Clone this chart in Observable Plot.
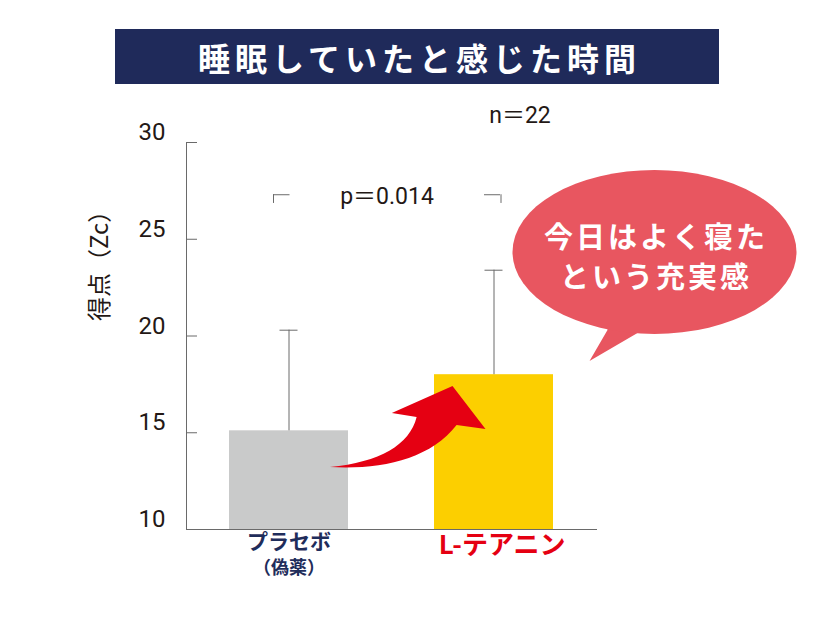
<!DOCTYPE html>
<html>
<head>
<meta charset="utf-8">
<script src="https://cdn.jsdelivr.net/npm/d3@7"></script>
<script src="https://cdn.jsdelivr.net/npm/@observablehq/plot@0.6"></script>
<style>
  html, body { margin: 0; padding: 0; background: #fff; }
  #wrap { width: 834px; height: 622px; position: relative; overflow: hidden; }
  #title {
    position: absolute; left: 115px; top: 29px; width: 604px; height: 55px;
    background: #1f2a5a; color: #fff;
    font-family: "Noto Sans CJK JP", sans-serif; font-weight: 700;
    font-size: 32px; letter-spacing: 5px; padding-left: 5px; box-sizing: border-box;
    display: flex; align-items: center; justify-content: center;
  }
  #chart { position: absolute; left: 0; top: 84px; }
  svg { overflow: visible; }
</style>
</head>
<body>
<div id="wrap">
  <div id="title"></div>
  <div id="chart"></div>
</div>
<script>
// ---- data ----
const titleText = "睡眠していたと感じた時間";
const categories = ["プラセボ", "L-テアニン"];
const subLabels = ["（偽薬）", ""];
const means = [15.1, 18.0];
const sds = [5.2, 5.4];
const yTicks = [10, 15, 20, 25, 30];
const yDomain = [10, 30];
const yLabel = "得点（Zc）";
const pText = "p＝0.014";
const nText = "n＝22";
const bracketTop = 27.3;
const bracketDrop = 26.85;
const bubbleLines = ["今日はよく寝た", "という充実感"];
const bubbleLineValues = [25.05, 22.95];
const barColors = ["#c9caca", "#fccf00"];
const labelColors = ["#1f2d5b", "#e50012"];

// arrow outline: [fraction between the two bar centres, score value]
const arrowPts = [
  [0.202, 13.2], [0.445, 13.05], [0.689, 13.57], [0.820, 15.37],
  [0.961, 15.17], [0.800, 17.39], [0.504, 16.0], [0.625, 15.79],
  [0.591, 14.34], [0.445, 13.46]
];

document.getElementById("title").textContent = titleText;

const data = categories.map((c, i) => ({cat: c, mean: means[i], sd: sds[i]}));

const W = 834, H = 538, mL = 186, mR = 237, mT = 58, mB = 93;
const frameW = W - mL - mR;
const axisColor = "#6a6a6a";
const textColor = "#231815";
const jp = "Noto Sans CJK JP";
const num = "Roboto, 'Noto Sans CJK JP'";

function annotations(index, scales) {
  const sx = scales.x, sy = scales.y;
  const bw = typeof sx.bandwidth === "function" ? sx.bandwidth() : sx.bandwidth;
  const c0 = sx(categories[0]) + bw / 2, c1 = sx(categories[1]) + bw / 2;
  const X = t => c0 + t * (c1 - c0);
  const P = i => `${X(arrowPts[i][0])},${sy(arrowPts[i][1])}`;
  const g = d3.create("svg:g");
  // speech bubble
  const bx = c1 + 161, by = sy(24.32);
  g.append("polygon")
    .attr("points", [[c1 + 114, sy(20.28)], [c1 + 96, sy(18.68)], [c1 + 144, sy(20.13)], [c1 + 150, by], [c1 + 110, by]].map(p => p.join(",")).join(" "))
    .attr("fill", "#e85660");
  g.append("ellipse").attr("cx", bx).attr("cy", by).attr("rx", 142).attr("ry", 82).attr("fill", "#e85660");
  // arrow
  const d = `M${P(0)} C${P(1)} ${P(2)} ${P(3)} L${P(4)} L${P(5)} L${P(6)} L${P(7)} C${P(8)} ${P(9)} ${P(0)} Z`;
  g.append("path").attr("d", d).attr("fill", "#e50012");
  return g.node();
}

const plot = Plot.plot({
  width: W, height: H,
  marginLeft: mL, marginRight: mR, marginTop: mT, marginBottom: mB,
  x: {type: "band", domain: categories, paddingInner: 0.4185, paddingOuter: 0.208, axis: null},
  y: {domain: yDomain, axis: null},
  color: {domain: categories, range: barColors},
  style: {fontFamily: jp, background: "transparent"},
  marks: [
    Plot.barY(data, {x: "cat", y1: 10, y2: "mean", fill: "cat"}),
    Plot.ruleX(data, {x: "cat", y1: "mean", y2: d => d.mean + d.sd, stroke: axisColor, strokeWidth: 1}),
    Plot.tickY(data, {x: "cat", y: d => d.mean + d.sd, stroke: axisColor, strokeWidth: 1, insetLeft: 50.5, insetRight: 50.5}),
    // axes
    Plot.ruleY([yDomain[0]], {stroke: axisColor, strokeWidth: 1}),
    Plot.frame({anchor: "left", stroke: axisColor, strokeWidth: 1}),
    Plot.tickY(yTicks, {y: d => d, stroke: axisColor, strokeWidth: 1, insetRight: frameW - 11}),
    Plot.axisY({ticks: yTicks, tickSize: 0, tickPadding: 21, dy: -10, fontSize: 24, fill: textColor, fontFamily: num, label: null}),
    Plot.text([yLabel], {frameAnchor: "left", rotate: -90, dx: -86, dy: -15, fontSize: 24, fill: textColor, fontFamily: jp}),
    // significance bracket
    Plot.tickY([bracketTop], {x: () => categories[0], y: d => d, stroke: axisColor, insetLeft: 44, insetRight: 58.5}),
    Plot.ruleX([categories[0]], {x: d => d, y1: bracketTop, y2: bracketDrop, dx: -15.5, stroke: axisColor}),
    Plot.tickY([bracketTop], {x: () => categories[1], y: d => d, stroke: axisColor, insetLeft: 50, insetRight: 53}),
    Plot.ruleX([categories[1]], {x: d => d, y1: bracketTop, y2: bracketDrop, dx: 7, stroke: axisColor}),
    Plot.text([pText], {x: () => categories[0], y: () => 27.21, dx: 98, fontSize: 23, fill: textColor, fontFamily: num}),
    Plot.text([nText], {x: () => categories[1], y: () => 31.4, dx: 26, fontSize: 23, fill: textColor, fontFamily: num}),
    annotations,
    Plot.text(bubbleLines, {x: () => categories[1], y: (d, i) => bubbleLineValues[i], dx: 162, fontSize: 29, fontWeight: 700, fill: "#fff", fontFamily: jp}),
    // category labels
    Plot.text([categories[0]], {x: d => d, frameAnchor: "bottom", dy: 19, fontSize: 21, fontWeight: 700, fill: labelColors[0], fontFamily: jp}),
    Plot.text([categories[0]], {x: d => d, text: () => subLabels[0], frameAnchor: "bottom", dy: 44, fontSize: 18, fontWeight: 700, fill: labelColors[0], fontFamily: jp}),
    Plot.text([categories[1]], {x: d => d, frameAnchor: "bottom", dy: 24, dx: 8, fontSize: 26, fontWeight: 700, fill: labelColors[1], fontFamily: jp})
  ]
});

d3.select(plot).selectAll("text").filter(function () {
  return bubbleLines.includes(this.textContent);
}).attr("letter-spacing", "3px");

document.getElementById("chart").appendChild(plot);
</script>
</body>
</html>
